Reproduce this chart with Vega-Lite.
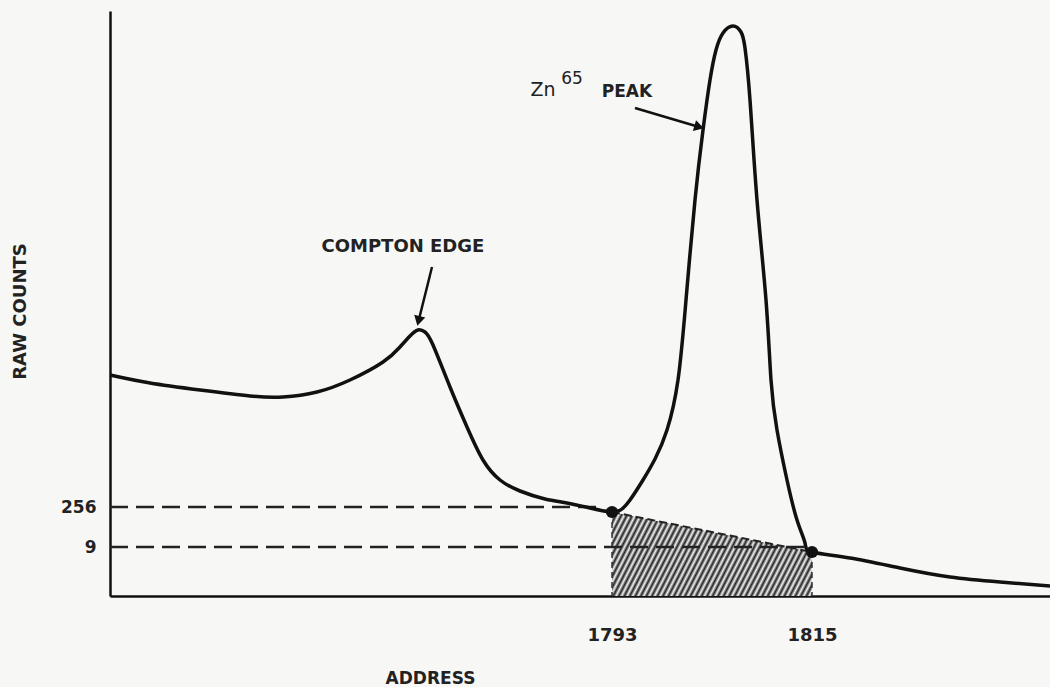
{
  "$schema": "https://vega.github.io/schema/vega-lite/v6.json",
  "width": 940,
  "height": 585,
  "autosize": "none",
  "padding": {"left": 110, "top": 11, "right": 0, "bottom": 91},
  "background": "#f7f7f5",
  "config": {
    "view": {"stroke": null},
    "axis": {
      "labelFont": "DejaVu Sans",
      "titleFont": "DejaVu Sans",
      "labelFontWeight": "bold",
      "titleFontWeight": "bold",
      "labelColor": "#222222",
      "titleColor": "#222222",
      "domainColor": "#111111",
      "domainWidth": 2.5,
      "ticks": false,
      "tickSize": 0,
      "grid": false
    }
  },
  "datasets": {
    "curve": [
      {"address": 1737.78, "level": 221},
      {"address": 1742.18, "level": 213},
      {"address": 1747.68, "level": 206},
      {"address": 1753.18, "level": 200},
      {"address": 1756.81, "level": 199},
      {"address": 1760.55, "level": 204},
      {"address": 1764.18, "level": 216},
      {"address": 1767.81, "level": 234},
      {"address": 1769.68, "level": 249},
      {"address": 1770.78, "level": 260},
      {"address": 1771.66, "level": 266},
      {"address": 1772.43, "level": 264},
      {"address": 1773.31, "level": 251},
      {"address": 1775.18, "level": 209},
      {"address": 1777.05, "level": 169},
      {"address": 1778.81, "level": 136},
      {"address": 1780.68, "level": 116},
      {"address": 1782.88, "level": 105},
      {"address": 1785.63, "level": 97},
      {"address": 1788.05, "level": 93},
      {"address": 1790.58, "level": 88},
      {"address": 1793.0, "level": 84},
      {"address": 1794.1, "level": 87},
      {"address": 1794.98, "level": 96},
      {"address": 1796.41, "level": 116},
      {"address": 1797.73, "level": 137},
      {"address": 1799.05, "level": 166},
      {"address": 1800.26, "level": 216},
      {"address": 1801.14, "level": 296},
      {"address": 1802.13, "level": 396},
      {"address": 1803.01, "level": 466},
      {"address": 1803.78, "level": 516},
      {"address": 1804.44, "level": 546},
      {"address": 1805.21, "level": 563},
      {"address": 1806.31, "level": 570},
      {"address": 1807.19, "level": 564},
      {"address": 1807.63, "level": 548},
      {"address": 1808.18, "level": 496},
      {"address": 1808.95, "level": 396},
      {"address": 1809.94, "level": 296},
      {"address": 1810.49, "level": 216},
      {"address": 1811.15, "level": 166},
      {"address": 1812.25, "level": 116},
      {"address": 1813.35, "level": 76},
      {"address": 1814.23, "level": 53},
      {"address": 1815.0, "level": 44},
      {"address": 1819.18, "level": 38},
      {"address": 1824.68, "level": 28},
      {"address": 1830.18, "level": 19},
      {"address": 1835.68, "level": 14},
      {"address": 1841.18, "level": 10}
    ],
    "window": [
      {"address": 1793, "level": 84},
      {"address": 1815, "level": 44}
    ],
    "reflines": [
      {"address": 1737.78, "address2": 1791.7, "level": 89},
      {"address": 1737.78, "address2": 1814.2, "level": 49}
    ],
    "arrows": [
      {"name": "compton", "address": 1773.2, "level": 329, "address2": 1771.72, "level2": 275},
      {"name": "zn", "address": 1795.53, "level": 488, "address2": 1802.59, "level2": 469}
    ],
    "notes": [
      {"label": "COMPTON EDGE", "address": 1770.0, "level": 344},
      {"label": "PEAK", "address": 1794.65, "level": 499},
      {"label": "Zn", "address": 1785.41, "level": 500},
      {"label": "65", "address": 1788.6, "level": 512}
    ]
  },
  "encoding": {
    "x": {
      "field": "address",
      "type": "quantitative",
      "scale": {"domain": [1737.78, 1841.18], "nice": false, "zero": false},
      "axis": {
        "values": [1793, 1815],
        "format": "d",
        "title": "ADDRESS",
        "labelFontSize": 18,
        "labelPadding": 30,
        "titleFontSize": 17,
        "titleX": 320,
        "titleY": 82,
        "titleBaseline": "middle",
        "titleAlign": "center"
      }
    },
    "y": {
      "field": "level",
      "type": "quantitative",
      "scale": {"domain": [0, 585], "nice": false, "zero": false},
      "axis": {
        "values": [49, 89],
        "labelExpr": "datum.value == 89 ? '256' : '9'",
        "title": "RAW COUNTS",
        "labelFontSize": 17,
        "labelPadding": 14,
        "titleFontSize": 18,
        "titleAngle": 270,
        "titleX": -90,
        "titleY": 300,
        "titleBaseline": "middle",
        "titleAlign": "center"
      }
    }
  },
  "layer": [
    {
      "data": {"name": "window"},
      "mark": {
        "type": "area",
        "interpolate": "linear",
        "fill": {
          "gradient": "linear",
          "x1": 0, "y1": 0, "x2": 1.1608, "y2": 0.2485,
          "stops": [
            {"offset": 0, "color": "#222222"}, {"offset": 0.0114, "color": "#f2f2f2"},
            {"offset": 0.0227, "color": "#222222"}, {"offset": 0.0341, "color": "#f2f2f2"},
            {"offset": 0.0455, "color": "#222222"}, {"offset": 0.0568, "color": "#f2f2f2"},
            {"offset": 0.0682, "color": "#222222"}, {"offset": 0.0795, "color": "#f2f2f2"},
            {"offset": 0.0909, "color": "#222222"}, {"offset": 0.1023, "color": "#f2f2f2"},
            {"offset": 0.1136, "color": "#222222"}, {"offset": 0.125, "color": "#f2f2f2"},
            {"offset": 0.1364, "color": "#222222"}, {"offset": 0.1477, "color": "#f2f2f2"},
            {"offset": 0.1591, "color": "#222222"}, {"offset": 0.1705, "color": "#f2f2f2"},
            {"offset": 0.1818, "color": "#222222"}, {"offset": 0.1932, "color": "#f2f2f2"},
            {"offset": 0.2045, "color": "#222222"}, {"offset": 0.2159, "color": "#f2f2f2"},
            {"offset": 0.2273, "color": "#222222"}, {"offset": 0.2386, "color": "#f2f2f2"},
            {"offset": 0.25, "color": "#222222"}, {"offset": 0.2614, "color": "#f2f2f2"},
            {"offset": 0.2727, "color": "#222222"}, {"offset": 0.2841, "color": "#f2f2f2"},
            {"offset": 0.2955, "color": "#222222"}, {"offset": 0.3068, "color": "#f2f2f2"},
            {"offset": 0.3182, "color": "#222222"}, {"offset": 0.3295, "color": "#f2f2f2"},
            {"offset": 0.3409, "color": "#222222"}, {"offset": 0.3523, "color": "#f2f2f2"},
            {"offset": 0.3636, "color": "#222222"}, {"offset": 0.375, "color": "#f2f2f2"},
            {"offset": 0.3864, "color": "#222222"}, {"offset": 0.3977, "color": "#f2f2f2"},
            {"offset": 0.4091, "color": "#222222"}, {"offset": 0.4205, "color": "#f2f2f2"},
            {"offset": 0.4318, "color": "#222222"}, {"offset": 0.4432, "color": "#f2f2f2"},
            {"offset": 0.4545, "color": "#222222"}, {"offset": 0.4659, "color": "#f2f2f2"},
            {"offset": 0.4773, "color": "#222222"}, {"offset": 0.4886, "color": "#f2f2f2"},
            {"offset": 0.5, "color": "#222222"}, {"offset": 0.5114, "color": "#f2f2f2"},
            {"offset": 0.5227, "color": "#222222"}, {"offset": 0.5341, "color": "#f2f2f2"},
            {"offset": 0.5455, "color": "#222222"}, {"offset": 0.5568, "color": "#f2f2f2"},
            {"offset": 0.5682, "color": "#222222"}, {"offset": 0.5795, "color": "#f2f2f2"},
            {"offset": 0.5909, "color": "#222222"}, {"offset": 0.6023, "color": "#f2f2f2"},
            {"offset": 0.6136, "color": "#222222"}, {"offset": 0.625, "color": "#f2f2f2"},
            {"offset": 0.6364, "color": "#222222"}, {"offset": 0.6477, "color": "#f2f2f2"},
            {"offset": 0.6591, "color": "#222222"}, {"offset": 0.6705, "color": "#f2f2f2"},
            {"offset": 0.6818, "color": "#222222"}, {"offset": 0.6932, "color": "#f2f2f2"},
            {"offset": 0.7045, "color": "#222222"}, {"offset": 0.7159, "color": "#f2f2f2"},
            {"offset": 0.7273, "color": "#222222"}, {"offset": 0.7386, "color": "#f2f2f2"},
            {"offset": 0.75, "color": "#222222"}, {"offset": 0.7614, "color": "#f2f2f2"},
            {"offset": 0.7727, "color": "#222222"}, {"offset": 0.7841, "color": "#f2f2f2"},
            {"offset": 0.7955, "color": "#222222"}, {"offset": 0.8068, "color": "#f2f2f2"},
            {"offset": 0.8182, "color": "#222222"}, {"offset": 0.8295, "color": "#f2f2f2"},
            {"offset": 0.8409, "color": "#222222"}, {"offset": 0.8523, "color": "#f2f2f2"},
            {"offset": 0.8636, "color": "#222222"}, {"offset": 0.875, "color": "#f2f2f2"},
            {"offset": 0.8864, "color": "#222222"}, {"offset": 0.8977, "color": "#f2f2f2"},
            {"offset": 0.9091, "color": "#222222"}, {"offset": 0.9205, "color": "#f2f2f2"},
            {"offset": 0.9318, "color": "#222222"}, {"offset": 0.9432, "color": "#f2f2f2"},
            {"offset": 0.9545, "color": "#222222"}, {"offset": 0.9659, "color": "#f2f2f2"},
            {"offset": 0.9773, "color": "#222222"}, {"offset": 0.9886, "color": "#f2f2f2"},
            {"offset": 1, "color": "#222222"}
          ]
        }
      },
      "encoding": {"y2": {"datum": 0}}
    },
    {
      "data": {"name": "window"},
      "mark": {"type": "line", "color": "#222222", "strokeWidth": 2, "strokeDash": [8, 4]},
      "encoding": {}
    },
    {
      "data": {"name": "window"},
      "mark": {"type": "rule", "color": "#333333", "strokeWidth": 1.5, "strokeDash": [6, 4]},
      "encoding": {"y2": {"datum": 0}}
    },
    {
      "data": {"name": "reflines"},
      "mark": {"type": "rule", "color": "#222222", "strokeWidth": 2.5, "strokeDash": [18, 8]},
      "encoding": {"x2": {"field": "address2"}}
    },
    {
      "data": {"name": "curve"},
      "mark": {"type": "line", "color": "#111111", "strokeWidth": 3.5, "interpolate": "natural"},
      "encoding": {}
    },
    {
      "data": {"name": "window"},
      "mark": {"type": "point", "shape": "circle", "filled": true, "color": "#111111", "size": 150, "opacity": 1},
      "encoding": {}
    },
    {
      "data": {"name": "arrows"},
      "mark": {"type": "rule", "color": "#111111", "strokeWidth": 2.5},
      "encoding": {"x2": {"field": "address2"}, "y2": {"field": "level2"}}
    },
    {
      "data": {"name": "arrows"},
      "transform": [{"filter": "datum.name == 'compton'"}],
      "mark": {"type": "point", "shape": "triangle-up", "filled": true, "color": "#111111", "size": 130, "angle": 194, "opacity": 1},
      "encoding": {"x": {"field": "address2", "type": "quantitative"}, "y": {"field": "level2", "type": "quantitative"}}
    },
    {
      "data": {"name": "arrows"},
      "transform": [{"filter": "datum.name == 'zn'"}],
      "mark": {"type": "point", "shape": "triangle-up", "filled": true, "color": "#111111", "size": 130, "angle": 106, "opacity": 1},
      "encoding": {"x": {"field": "address2", "type": "quantitative"}, "y": {"field": "level2", "type": "quantitative"}}
    },
    {
      "data": {"name": "notes"},
      "transform": [{"filter": "datum.label == 'COMPTON EDGE'"}],
      "mark": {"type": "text", "font": "DejaVu Sans", "fontWeight": "bold", "fontSize": 18, "color": "#222222", "align": "center", "baseline": "alphabetic"},
      "encoding": {"text": {"field": "label"}}
    },
    {
      "data": {"name": "notes"},
      "transform": [{"filter": "datum.label == 'PEAK'"}],
      "mark": {"type": "text", "font": "DejaVu Sans", "fontWeight": "bold", "fontSize": 17, "color": "#222222", "align": "center", "baseline": "alphabetic"},
      "encoding": {"text": {"field": "label"}}
    },
    {
      "data": {"name": "notes"},
      "transform": [{"filter": "datum.label == 'Zn'"}],
      "mark": {"type": "text", "font": "DejaVu Sans", "fontSize": 19, "color": "#222222", "align": "center", "baseline": "alphabetic"},
      "encoding": {"text": {"field": "label"}}
    },
    {
      "data": {"name": "notes"},
      "transform": [{"filter": "datum.label == '65'"}],
      "mark": {"type": "text", "font": "DejaVu Sans", "fontSize": 17, "color": "#222222", "align": "center", "baseline": "alphabetic"},
      "encoding": {"text": {"field": "label"}}
    }
  ]
}
